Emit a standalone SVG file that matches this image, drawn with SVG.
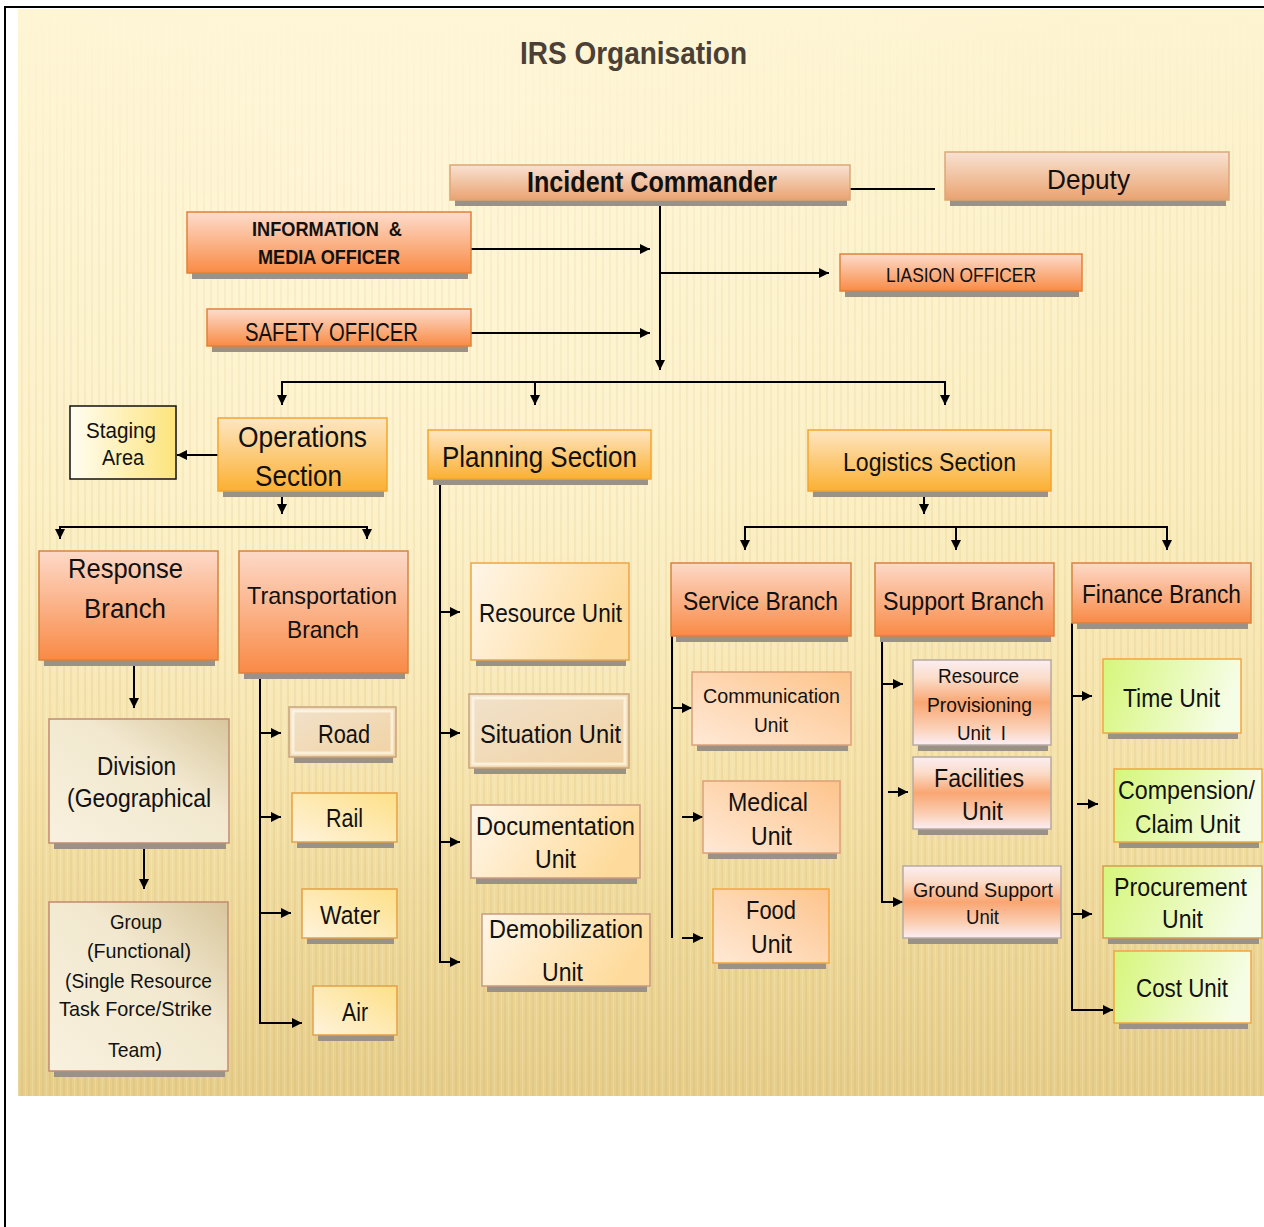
<svg xmlns="http://www.w3.org/2000/svg" width="1264" height="1227" viewBox="0 0 1264 1227">
<style>
text{font-family:"Liberation Sans Narrow","Liberation Sans",Arial,sans-serif;fill:#111;}
.b{font-weight:bold;}
.sh{fill:#9a9286;}
.ln{fill:none;stroke:#000;stroke-width:2;}
.ar{fill:none;stroke:#000;stroke-width:2;marker-end:url(#ah);}
.off{fill:url(#gOff);stroke:#e2803a;stroke-width:1.5;}
.ic{fill:url(#gIC);stroke:#dca676;stroke-width:1.5;}
.sec{fill:url(#gSec);stroke:#f3a52e;stroke-width:1.5;}
.br{fill:url(#gBr);stroke:#d5843f;stroke-width:1.5;}
.pu{fill:url(#gPU);stroke:#eaa64a;stroke-width:1.5;}
.pu2{fill:url(#gPU);stroke:#c99a80;stroke-width:1.5;}
.tr{fill:url(#gTr);stroke:#e3a048;stroke-width:1.5;}
.dv{fill:url(#gDv);stroke:#c28a72;stroke-width:1.5;}
.sv{fill:url(#gSv);stroke:#dca07a;stroke-width:1.5;}
.sp{fill:url(#gSp);stroke:#b8aaa0;stroke-width:1.5;}
.fn{fill:url(#gFn);stroke:#f0a640;stroke-width:1.5;}
.bv{fill:url(#gBv);stroke:#c9a47a;stroke-width:1.5;}
.bvi{fill:none;stroke:#fffbe8;stroke-opacity:0.7;stroke-width:3;}
</style>
<defs>
<marker id="ah" markerWidth="11" markerHeight="11" refX="10" refY="5" orient="auto" markerUnits="userSpaceOnUse"><path d="M0,0 L10,5 L0,10 z" fill="#000"/></marker>
<linearGradient id="gBg" x1="0" y1="0" x2="0" y2="1"><stop offset="0" stop-color="#fdf4d2"/><stop offset="0.45" stop-color="#fbedbe"/><stop offset="0.75" stop-color="#f3dfa4"/><stop offset="1" stop-color="#e6cd8a"/></linearGradient>
<radialGradient id="gGlow" cx="0.3" cy="0.2" r="0.6"><stop offset="0" stop-color="#fff8dc" stop-opacity="0.7"/><stop offset="1" stop-color="#fff8dc" stop-opacity="0"/></radialGradient>
<pattern id="pStripe" width="7" height="40" patternUnits="userSpaceOnUse"><rect x="0" y="0" width="2" height="40" fill="#c8a55a" fill-opacity="0.14"/><rect x="4" y="0" width="1" height="40" fill="#fff8e0" fill-opacity="0.2"/></pattern>
<linearGradient id="gMask" x1="0" y1="0" x2="0" y2="1"><stop offset="0" stop-color="#fff" stop-opacity="0"/><stop offset="0.25" stop-color="#fff" stop-opacity="0.6"/><stop offset="1" stop-color="#fff" stop-opacity="1"/></linearGradient>
<mask id="mStripe" maskUnits="userSpaceOnUse" x="18" y="9" width="1246" height="1087"><rect x="18" y="9" width="1246" height="1087" fill="url(#gMask)"/></mask>
<linearGradient id="gOff" x1="0" y1="0" x2="0" y2="1"><stop offset="0" stop-color="#fddccc"/><stop offset="1" stop-color="#f98b45"/></linearGradient>
<linearGradient id="gIC" x1="0" y1="0" x2="0" y2="1"><stop offset="0" stop-color="#f8e2d2"/><stop offset="1" stop-color="#eaa371"/></linearGradient>
<linearGradient id="gSec" x1="0" y1="0" x2="0" y2="1"><stop offset="0" stop-color="#fee6c2"/><stop offset="1" stop-color="#fbb032"/></linearGradient>
<linearGradient id="gBr" x1="0" y1="0" x2="0" y2="1"><stop offset="0" stop-color="#fdd9c8"/><stop offset="1" stop-color="#f98a46"/></linearGradient>
<linearGradient id="gPU" x1="0" y1="0" x2="1" y2="0.3"><stop offset="0" stop-color="#fff6e8"/><stop offset="1" stop-color="#fedb9c"/></linearGradient>
<linearGradient id="gTr" x1="0" y1="1" x2="1" y2="0"><stop offset="0" stop-color="#fff3dc"/><stop offset="1" stop-color="#fde088"/></linearGradient>
<linearGradient id="gStg" x1="0" y1="0" x2="1" y2="0"><stop offset="0" stop-color="#fffdf2"/><stop offset="1" stop-color="#fde47c"/></linearGradient>
<linearGradient id="gDv" x1="0" y1="1" x2="1" y2="0"><stop offset="0" stop-color="#f8f1de"/><stop offset="0.6" stop-color="#f2e8cf"/><stop offset="1" stop-color="#d8c69c"/></linearGradient>
<linearGradient id="gSv" x1="0" y1="1" x2="1" y2="0"><stop offset="0" stop-color="#ffe9d6"/><stop offset="1" stop-color="#fdc48c"/></linearGradient>
<linearGradient id="gSp" x1="0" y1="0" x2="0" y2="1"><stop offset="0" stop-color="#fbeef2"/><stop offset="0.22" stop-color="#fbdcc8"/><stop offset="0.5" stop-color="#f9a672"/><stop offset="0.8" stop-color="#fbd0b6"/><stop offset="1" stop-color="#fbeef4"/></linearGradient>
<linearGradient id="gFn" x1="0" y1="0" x2="1" y2="0.2"><stop offset="0" stop-color="#d6f67a"/><stop offset="1" stop-color="#f6fde6"/></linearGradient>
<linearGradient id="gBv" x1="0" y1="0" x2="1" y2="1"><stop offset="0" stop-color="#f1e2cc"/><stop offset="1" stop-color="#f1d2a2"/></linearGradient>
</defs>

<g id="background">
<rect x="0" y="0" width="1264" height="1227" fill="#fff"/>
<rect x="18" y="9" width="1246" height="1087" fill="url(#gBg)"/>
<rect x="18" y="9" width="1246" height="1087" fill="url(#gGlow)"/>
<rect x="18" y="9" width="1246" height="1087" fill="url(#pStripe)" mask="url(#mStripe)"/>
<path d="M5,1227 V7 H1264" fill="none" stroke="#000" stroke-width="2"/>
</g>

<g id="title"><text x="520" y="64" class="b" font-size="32" textLength="227" lengthAdjust="spacingAndGlyphs" style="fill:#4b4036">IRS Organisation</text></g>

<g id="connectors">
<path class="ln" d="M850,189 H935"/>
<path class="ar" d="M660,200 V370"/>
<path class="ar" d="M471,249 H650"/>
<path class="ar" d="M471,333 H650"/>
<path class="ar" d="M660,273 H829"/>
<path class="ln" d="M282,382 H945"/>
<path class="ar" d="M282,381 V405"/>
<path class="ar" d="M535,382 V405"/>
<path class="ar" d="M945,381 V405"/>
<path class="ar" d="M218,455 H177"/>
<path class="ar" d="M282,491 V514"/>
<path class="ln" d="M60,527 H367"/>
<path class="ar" d="M60,526 V539"/>
<path class="ar" d="M367,526 V539"/>
<path class="ar" d="M134,660 V708"/>
<path class="ar" d="M144,843 V889"/>
<path class="ar" d="M260,673 V1023 H302"/>
<path class="ar" d="M260,733 H281"/>
<path class="ar" d="M260,817 H281"/>
<path class="ar" d="M260,913 H291"/>
<path class="ar" d="M440,479 V962 H460"/>
<path class="ar" d="M440,612 H460"/>
<path class="ar" d="M440,733 H460"/>
<path class="ar" d="M440,842 H460"/>
<path class="ar" d="M924,491 V514"/>
<path class="ln" d="M745,527 H1167"/>
<path class="ar" d="M745,526 V550"/>
<path class="ar" d="M956,527 V550"/>
<path class="ar" d="M1167,526 V550"/>
<path class="ln" d="M672,636 V938"/>
<path class="ar" d="M672,708 H692"/>
<path class="ar" d="M682,817 H703"/>
<path class="ar" d="M682,938 H703"/>
<path class="ar" d="M882,636 V902 H903"/>
<path class="ar" d="M882,684 H903"/>
<path class="ar" d="M888,792 H908"/>
<path class="ar" d="M1072,623 V1010 H1113"/>
<path class="ar" d="M1072,696 H1092"/>
<path class="ar" d="M1077,804 H1098"/>
<path class="ar" d="M1072,914 H1092"/>
</g>

<g id="incident-commander"><rect class="sh" x="455" y="171" width="392" height="35"/><rect class="ic" x="450" y="165" width="400" height="35"/><text x="527" y="192" class="b" font-size="29" textLength="250" lengthAdjust="spacingAndGlyphs">Incident Commander</text></g>
<g id="deputy"><rect class="sh" x="950" y="158" width="276" height="48"/><rect class="ic" x="945" y="152" width="284" height="48"/><text x="1047" y="189" font-size="27" textLength="83" lengthAdjust="spacingAndGlyphs">Deputy</text></g>
<g id="information-media-officer"><rect class="sh" x="192" y="218" width="276" height="61"/><rect class="off" x="187" y="212" width="284" height="61"/><text x="252" y="236" class="b" font-size="21" textLength="150" lengthAdjust="spacingAndGlyphs" xml:space="preserve">INFORMATION  &amp;</text><text x="258" y="264" class="b" font-size="21" textLength="142" lengthAdjust="spacingAndGlyphs">MEDIA OFFICER</text></g>
<g id="safety-officer"><rect class="sh" x="212" y="315" width="256" height="37"/><rect class="off" x="207" y="309" width="264" height="37"/><text x="245" y="341" font-size="25" textLength="173" lengthAdjust="spacingAndGlyphs">SAFETY OFFICER</text></g>
<g id="liaison-officer"><rect class="sh" x="845" y="260" width="234" height="37"/><rect class="off" x="840" y="254" width="242" height="37"/><text x="886" y="282" font-size="21" textLength="150" lengthAdjust="spacingAndGlyphs">LIASION OFFICER</text></g>

<g id="staging-area"><rect x="70" y="406" width="106" height="73" fill="url(#gStg)" stroke="#111" stroke-width="1.5"/><text x="86" y="438" font-size="22" textLength="70" lengthAdjust="spacingAndGlyphs">Staging</text><text x="102" y="465" font-size="22" textLength="42" lengthAdjust="spacingAndGlyphs">Area</text></g>
<g id="operations-section"><rect class="sh" x="223" y="424" width="161" height="73"/><rect class="sec" x="218" y="418" width="169" height="73"/><text x="238" y="447" font-size="29" textLength="129" lengthAdjust="spacingAndGlyphs">Operations</text><text x="255" y="486" font-size="29" textLength="87" lengthAdjust="spacingAndGlyphs">Section</text></g>
<g id="planning-section"><rect class="sh" x="433" y="436" width="215" height="49"/><rect class="sec" x="428" y="430" width="223" height="49"/><text x="442" y="467" font-size="29" textLength="195" lengthAdjust="spacingAndGlyphs">Planning Section</text></g>
<g id="logistics-section"><rect class="sh" x="813" y="436" width="235" height="61"/><rect class="sec" x="808" y="430" width="243" height="61"/><text x="843" y="471" font-size="25" textLength="173" lengthAdjust="spacingAndGlyphs">Logistics Section</text></g>

<g id="response-branch"><rect class="sh" x="44" y="557" width="171" height="109"/><rect class="br" x="39" y="551" width="179" height="109"/><text x="68" y="578" font-size="28" textLength="115" lengthAdjust="spacingAndGlyphs">Response</text><text x="84" y="618" font-size="28" textLength="82" lengthAdjust="spacingAndGlyphs">Branch</text></g>
<g id="transportation-branch"><rect class="sh" x="244" y="557" width="161" height="122"/><rect class="br" x="239" y="551" width="169" height="122"/><text x="247" y="604" font-size="24" textLength="150" lengthAdjust="spacingAndGlyphs">Transportation</text><text x="287" y="638" font-size="24" textLength="72" lengthAdjust="spacingAndGlyphs">Branch</text></g>
<g id="division"><rect class="sh" x="54" y="725" width="172" height="124"/><rect class="dv" x="49" y="719" width="180" height="124"/><text x="97" y="775" font-size="25" textLength="79" lengthAdjust="spacingAndGlyphs">Division</text><text x="67" y="807" font-size="25" textLength="144" lengthAdjust="spacingAndGlyphs">(Geographical</text></g>
<g id="group"><rect class="sh" x="54" y="908" width="171" height="169"/><rect class="dv" x="49" y="902" width="179" height="169"/><text x="110" y="929" font-size="21" textLength="52" lengthAdjust="spacingAndGlyphs">Group</text><text x="87" y="958" font-size="21" textLength="104" lengthAdjust="spacingAndGlyphs">(Functional)</text><text x="65" y="988" font-size="21" textLength="147" lengthAdjust="spacingAndGlyphs">(Single Resource</text><text x="59" y="1016" font-size="21" textLength="153" lengthAdjust="spacingAndGlyphs">Task Force/Strike</text><text x="108" y="1057" font-size="21" textLength="54" lengthAdjust="spacingAndGlyphs">Team)</text></g>
<g id="road"><rect class="sh" x="294" y="713" width="99" height="50"/><rect class="bv" x="289" y="707" width="107" height="50"/><rect class="bvi" x="293" y="711" width="99" height="42"/><text x="318" y="743" font-size="25" textLength="52" lengthAdjust="spacingAndGlyphs">Road</text></g>
<g id="rail"><rect class="sh" x="297" y="799" width="97" height="49"/><rect class="tr" x="292" y="793" width="105" height="49"/><text x="326" y="827" font-size="25" textLength="37" lengthAdjust="spacingAndGlyphs">Rail</text></g>
<g id="water"><rect class="sh" x="307" y="895" width="87" height="49"/><rect class="tr" x="302" y="889" width="95" height="49"/><text x="320" y="924" font-size="25" textLength="60" lengthAdjust="spacingAndGlyphs">Water</text></g>
<g id="air"><rect class="sh" x="318" y="992" width="76" height="49"/><rect class="tr" x="313" y="986" width="84" height="49"/><text x="342" y="1021" font-size="25" textLength="26" lengthAdjust="spacingAndGlyphs">Air</text></g>

<g id="resource-unit"><rect class="sh" x="476" y="569" width="150" height="97"/><rect class="pu" x="471" y="563" width="158" height="97"/><text x="479" y="622" font-size="25" textLength="143" lengthAdjust="spacingAndGlyphs">Resource Unit</text></g>
<g id="situation-unit"><rect class="sh" x="474" y="700" width="152" height="74"/><rect class="bv" x="469" y="694" width="160" height="74"/><rect class="bvi" x="473" y="698" width="152" height="66"/><text x="480" y="743" font-size="25" textLength="141" lengthAdjust="spacingAndGlyphs">Situation Unit</text></g>
<g id="documentation-unit"><rect class="sh" x="476" y="811" width="161" height="73"/><rect class="pu2" x="471" y="805" width="169" height="73"/><text x="476" y="835" font-size="25" textLength="159" lengthAdjust="spacingAndGlyphs">Documentation</text><text x="535" y="868" font-size="25" textLength="41" lengthAdjust="spacingAndGlyphs">Unit</text></g>
<g id="demobilization-unit"><rect class="sh" x="487" y="920" width="160" height="72"/><rect class="pu2" x="482" y="914" width="168" height="72"/><text x="489" y="938" font-size="25" textLength="154" lengthAdjust="spacingAndGlyphs">Demobilization</text><text x="542" y="981" font-size="25" textLength="41" lengthAdjust="spacingAndGlyphs">Unit</text></g>

<g id="service-branch"><rect class="sh" x="676" y="569" width="172" height="73"/><rect class="br" x="671" y="563" width="180" height="73"/><text x="683" y="610" font-size="25" textLength="155" lengthAdjust="spacingAndGlyphs">Service Branch</text></g>
<g id="communication-unit"><rect class="sh" x="697" y="678" width="151" height="73"/><rect class="sv" x="692" y="672" width="159" height="73"/><text x="703" y="703" font-size="21" textLength="137" lengthAdjust="spacingAndGlyphs">Communication</text><text x="754" y="732" font-size="21" textLength="34" lengthAdjust="spacingAndGlyphs">Unit</text></g>
<g id="medical-unit"><rect class="sh" x="708" y="787" width="129" height="72"/><rect class="sv" x="703" y="781" width="137" height="72"/><text x="728" y="811" font-size="26" textLength="80" lengthAdjust="spacingAndGlyphs">Medical</text><text x="751" y="845" font-size="26" textLength="41" lengthAdjust="spacingAndGlyphs">Unit</text></g>
<g id="food-unit"><rect class="sh" x="718" y="895" width="108" height="74"/><rect class="sv" x="713" y="889" width="116" height="74" style="stroke:#f0a640"/><text x="746" y="919" font-size="26" textLength="50" lengthAdjust="spacingAndGlyphs">Food</text><text x="751" y="953" font-size="26" textLength="41" lengthAdjust="spacingAndGlyphs">Unit</text></g>

<g id="support-branch"><rect class="sh" x="880" y="569" width="171" height="73"/><rect class="br" x="875" y="563" width="179" height="73"/><text x="883" y="610" font-size="26" textLength="161" lengthAdjust="spacingAndGlyphs">Support Branch</text></g>
<g id="resource-provisioning-unit"><rect class="sh" x="918" y="666" width="130" height="85"/><rect class="sp" x="913" y="660" width="138" height="85"/><text x="938" y="683" font-size="21" textLength="81" lengthAdjust="spacingAndGlyphs">Resource</text><text x="927" y="712" font-size="21" textLength="105" lengthAdjust="spacingAndGlyphs">Provisioning</text><text x="957" y="740" font-size="21" textLength="49" lengthAdjust="spacingAndGlyphs" xml:space="preserve">Unit  I</text></g>
<g id="facilities-unit"><rect class="sh" x="918" y="763" width="130" height="72"/><rect class="sp" x="913" y="757" width="138" height="72"/><text x="934" y="787" font-size="26" textLength="90" lengthAdjust="spacingAndGlyphs">Facilities</text><text x="962" y="820" font-size="26" textLength="41" lengthAdjust="spacingAndGlyphs">Unit</text></g>
<g id="ground-support-unit"><rect class="sh" x="908" y="872" width="150" height="72"/><rect class="sp" x="903" y="866" width="158" height="72"/><text x="913" y="897" font-size="21" textLength="140" lengthAdjust="spacingAndGlyphs">Ground Support</text><text x="966" y="924" font-size="21" textLength="33" lengthAdjust="spacingAndGlyphs">Unit</text></g>

<g id="finance-branch"><rect class="sh" x="1077" y="569" width="171" height="60"/><rect class="br" x="1072" y="563" width="179" height="60"/><text x="1082" y="603" font-size="26" textLength="159" lengthAdjust="spacingAndGlyphs">Finance Branch</text></g>
<g id="time-unit"><rect class="sh" x="1108" y="665" width="130" height="74"/><rect class="fn" x="1103" y="659" width="138" height="74"/><text x="1123" y="707" font-size="26" textLength="97" lengthAdjust="spacingAndGlyphs">Time Unit</text></g>
<g id="compensation-claim-unit"><rect class="sh" x="1119" y="775" width="140" height="73"/><rect class="fn" x="1114" y="769" width="148" height="73"/><text x="1118" y="799" font-size="25" textLength="137" lengthAdjust="spacingAndGlyphs">Compension/</text><text x="1135" y="833" font-size="26" textLength="105" lengthAdjust="spacingAndGlyphs">Claim Unit</text></g>
<g id="procurement-unit"><rect class="sh" x="1108" y="872" width="151" height="72"/><rect class="fn" x="1103" y="866" width="159" height="72" style="stroke:#d99a50"/><text x="1114" y="896" font-size="26" textLength="133" lengthAdjust="spacingAndGlyphs">Procurement</text><text x="1162" y="928" font-size="26" textLength="41" lengthAdjust="spacingAndGlyphs">Unit</text></g>
<g id="cost-unit"><rect class="sh" x="1119" y="957" width="129" height="72"/><rect class="fn" x="1114" y="951" width="137" height="72"/><text x="1136" y="997" font-size="26" textLength="92" lengthAdjust="spacingAndGlyphs">Cost Unit</text></g>
</svg>
